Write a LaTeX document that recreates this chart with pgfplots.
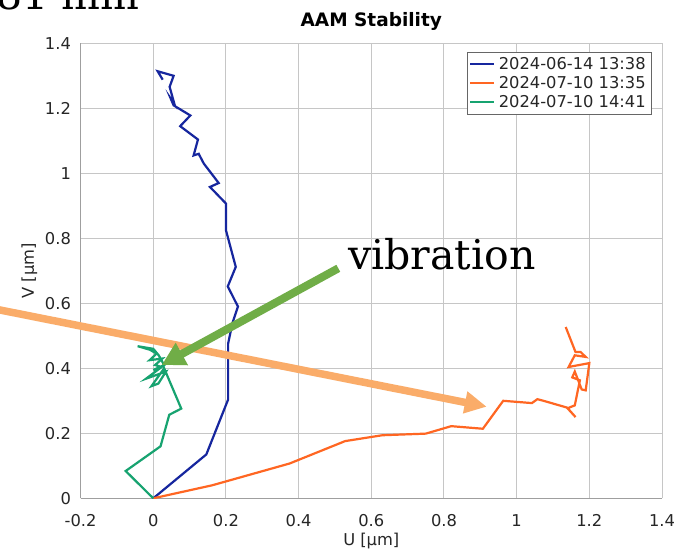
\documentclass[border=0pt]{standalone}
\usepackage{pgfplots}
\pgfplotsset{compat=1.18}
\usepackage{fontspec}
\setmainfont{DejaVu Sans}
\newfontfamily\annotfont{DejaVu Serif}
\usetikzlibrary{arrows.meta}

\definecolor{runA}{RGB}{22,38,158}
\definecolor{runB}{RGB}{255,102,34}
\definecolor{runC}{RGB}{23,163,112}
\definecolor{noteGreen}{RGB}{112,173,71}
\definecolor{noteOrange}{RGB}{250,172,105}

\begin{document}
\begin{tikzpicture}
\useasboundingbox (0pt,0pt) rectangle (674pt,552pt);
\clip (0pt,0pt) rectangle (674pt,552pt);
\fill[white] (0pt,0pt) rectangle (674pt,552pt);
\begin{axis}[
  at={(80.6pt,53.7pt)}, anchor=south west,
  width=581.4pt, height=455pt, scale only axis,
  xmin=-0.2, xmax=1.4, ymin=0, ymax=1.4,
  xtick={-0.2,0,0.2,0.4,0.6,0.8,1,1.2,1.4},
  xticklabels={-0.2,0,0.2,0.4,0.6,0.8,1,1.2,1.4},
  ytick={0,0.2,0.4,0.6,0.8,1,1.2,1.4},
  yticklabels={0,0.2,0.4,0.6,0.8,1,1.2,1.4},
  grid=major,
  major grid style={gray!45, line width=1pt},
  axis x line*=bottom, axis y line*=left,
  axis line style={gray!75, line width=1pt},
  major tick length=0pt,
  ticklabel style={font=\fontsize{16.3}{16}\selectfont, text=black!85},
  xticklabel style={inner sep=0pt, yshift=-16pt},
  yticklabel style={inner sep=0pt, xshift=-9.5pt},
  title={AAM Stability},
  every axis title/.style={at={(axis description cs:0.5,1.0473)}, anchor=center,
    font=\bfseries\fontsize{18.5}{18}\selectfont},
  xlabel={U [µm]},
  every axis x label/.style={at={(axis description cs:0.5,-0.0934)}, anchor=center,
    font=\fontsize{16.3}{16}\selectfont, text=black!85},
  ylabel={V [µm]},
  every axis y label/.style={at={(axis description cs:-0.0880,0.5)}, rotate=90, anchor=center,
    font=\fontsize{16.3}{16}\selectfont, text=black!85},
  legend cell align=left,
  legend image code/.code={\draw[#1, line width=2pt] (0pt,0pt) -- (24pt,0pt);},
  legend style={at={(axis description cs:1,1)}, anchor=north east,
    xshift=-10.3pt, yshift=-8.4pt,
    draw=black!60, line width=0.8pt, fill=white,
    font=\fontsize{16.3}{16}\selectfont, text=black!85,
    inner xsep=2pt, inner ysep=2.2pt, row sep=0pt,
    nodes={inner xsep=3.6pt, inner ysep=2.8pt}},
]
% run of 2024-06-14 13:38
\addplot[runA, line width=2.2pt] coordinates {
 (0,0) (0.146,0.135) (0.206,0.304) (0.206,0.476) (0.218,0.54) (0.233,0.59)
 (0.205,0.652) (0.227,0.712) (0.200,0.825) (0.200,0.907) (0.156,0.958)
 (0.180,0.970) (0.150,1.014) (0.139,1.030) (0.125,1.060) (0.111,1.055)
 (0.123,1.104) (0.074,1.145) (0.102,1.178) (0.056,1.209) (0.048,1.23)
 (0.058,1.214) (0.045,1.266) (0.056,1.30) (0.012,1.314) (0.026,1.288)
};
\addlegendentry{2024-06-14 13:38}
% run of 2024-07-10 13:35
\addplot[runB, line width=2.2pt] coordinates {
 (0,0) (0.162,0.04) (0.375,0.107) (0.528,0.176) (0.63,0.194) (0.75,0.199)
 (0.82,0.222) (0.907,0.214) (0.963,0.30) (1.042,0.293) (1.057,0.305)
 (1.074,0.30) (1.139,0.279) (1.162,0.25) (1.14,0.277) (1.16,0.286)
 (1.174,0.363) (1.153,0.372) (1.16,0.39) (1.179,0.335) (1.19,0.332)
 (1.2,0.416) (1.143,0.404) (1.16,0.44) (1.19,0.435) (1.176,0.45)
 (1.162,0.45) (1.135,0.527)
};
\addlegendentry{2024-07-10 13:35}
% run of 2024-07-10 14:41
\addplot[runC, line width=2.2pt] coordinates {
 (0,0) (-0.076,0.084) (0.02,0.16) (0.044,0.257) (0.077,0.276) (0.042,0.368)
 (0.03,0.40) (-0.005,0.345) (0.014,0.353) (0.035,0.39) (-0.020,0.368)
 (0.023,0.404) (0.005,0.41) (0.025,0.43) (-0.01,0.425) (0.009,0.445)
 (-0.009,0.457) (-0.043,0.468) (0.0,0.46) (0.015,0.44) (0.03,0.41) (0.0,0.395)
};
\addlegendentry{2024-07-10 14:41}
\end{axis}
% annotation arrows and note
\draw[line width=7.5pt, noteOrange, -{Triangle[length=22pt,width=21pt]}]
  (-5pt,243pt) -- (486.7pt,145.3pt);
\draw[line width=8pt, noteGreen, -{Triangle[length=23pt,width=24pt]}]
  (338.3pt,283.7pt) -- (161.7pt,187pt);
\node[anchor=base west, inner sep=0pt, font=\annotfont\fontsize{41}{41}\selectfont]
  at (348pt,282pt) {vibration};
\node[anchor=base east, inner sep=0pt, font=\annotfont\fontsize{41}{41}\selectfont]
  at (140pt,542pt) {81 mm};
\end{tikzpicture}
\end{document}
